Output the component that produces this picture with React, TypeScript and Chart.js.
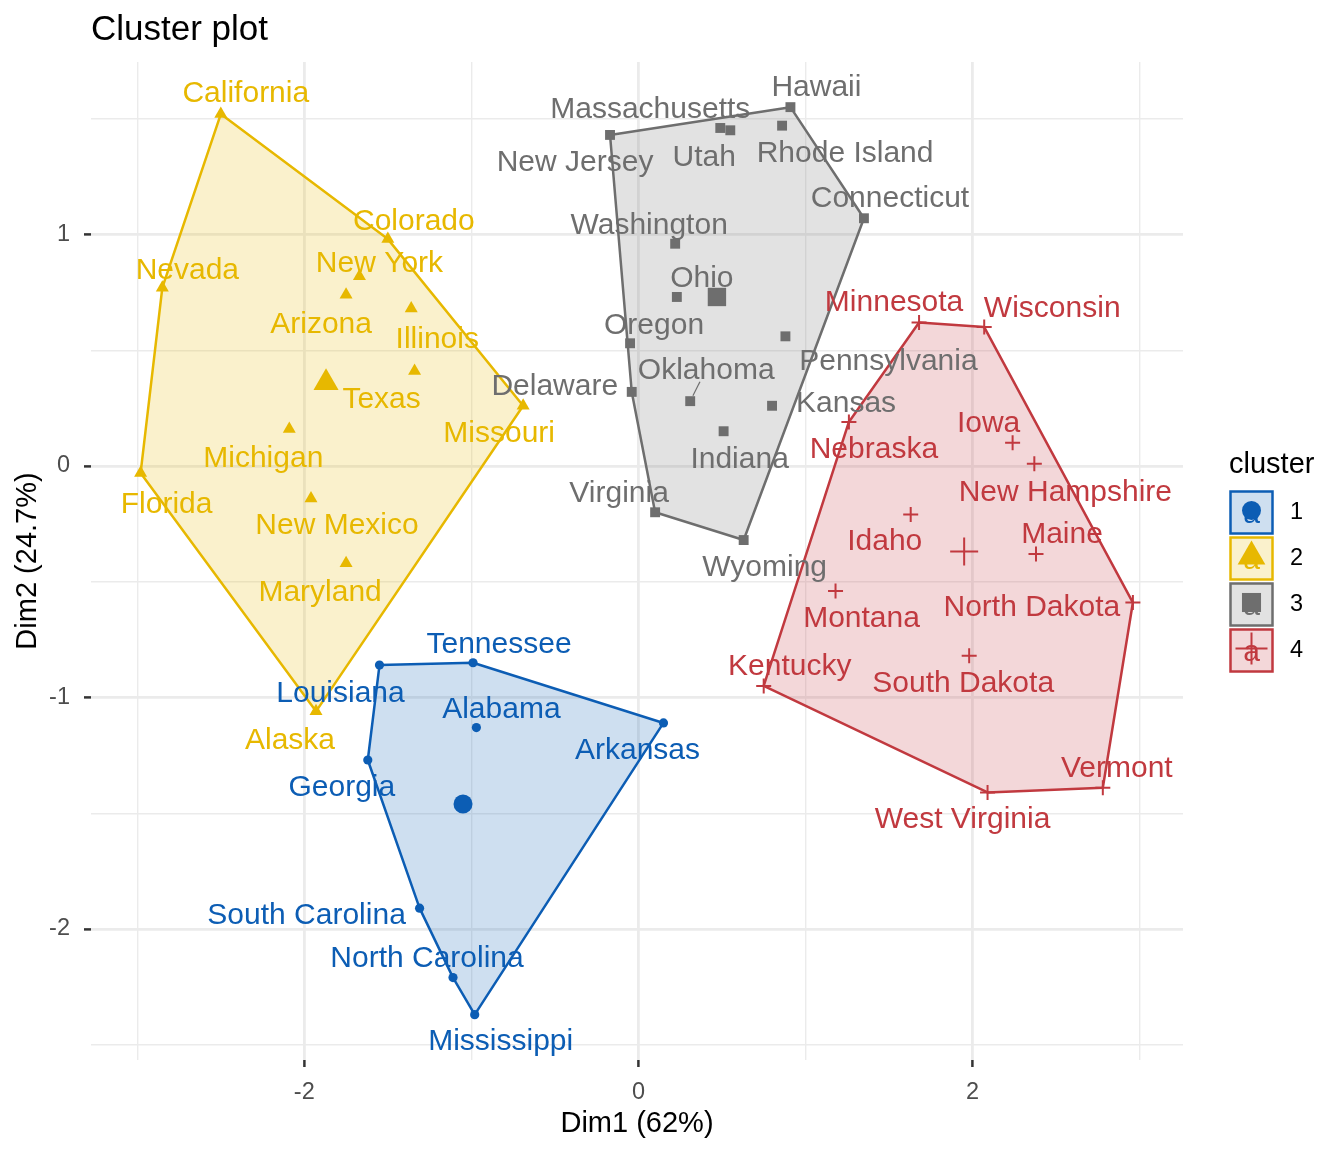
import React, { useEffect, useRef } from 'react';
import { Chart, registerables } from 'chart.js';
import { drawPoint } from 'chart.js/helpers';

Chart.register(...registerables);

const FONT = '"Liberation Sans", Arial, Helvetica, sans-serif';

// ---- data -------------------------------------------------------------
const clusterIds = ['1', '2', '3', '4'];
const clusterColors = ['#0C5DB4', '#E7B800', '#6E6E6E', '#C1393F'];
const clusterFills = [
  'rgba(12,93,180,0.2)',
  'rgba(231,184,0,0.2)',
  'rgba(110,110,110,0.2)',
  'rgba(193,57,63,0.2)',
];
const clusterShapes = ['circle', 'triangle', 'rect', 'cross'];

const cluster1States = ['Alabama', 'Arkansas', 'Georgia', 'Louisiana', 'Mississippi', 'North Carolina', 'South Carolina', 'Tennessee'];
const cluster1Dim1 = [-0.97, 0.15, -1.62, -1.55, -0.98, -1.11, -1.31, -0.99];
const cluster1Dim2 = [-1.13, -1.11, -1.27, -0.86, -2.37, -2.21, -1.91, -0.85];

const cluster2States = ['Alaska', 'Arizona', 'California', 'Colorado', 'Florida', 'Illinois', 'Maryland', 'Michigan', 'Missouri', 'Nevada', 'New Mexico', 'New York', 'Texas'];
const cluster2Dim1 = [-1.93, -1.75, -2.5, -1.5, -2.98, -1.36, -1.75, -2.09, -0.69, -2.85, -1.96, -1.67, -1.34];
const cluster2Dim2 = [-1.06, 0.74, 1.52, 0.98, -0.03, 0.68, -0.42, 0.16, 0.26, 0.77, -0.14, 0.82, 0.41];

const cluster3States = ['Connecticut', 'Delaware', 'Hawaii', 'Indiana', 'Kansas', 'Massachusetts', 'New Jersey', 'Ohio', 'Oklahoma', 'Oregon', 'Pennsylvania', 'Rhode Island', 'Utah', 'Virginia', 'Washington', 'Wyoming'];
const cluster3Dim1 = [1.35, -0.04, 0.91, 0.51, 0.8, 0.49, -0.17, 0.23, 0.31, -0.05, 0.88, 0.86, 0.55, 0.1, 0.22, 0.63];
const cluster3Dim2 = [1.07, 0.32, 1.55, 0.15, 0.26, 1.46, 1.43, 0.73, 0.28, 0.53, 0.56, 1.47, 1.45, -0.2, 0.96, -0.32];

const cluster4States = ['Idaho', 'Iowa', 'Kentucky', 'Maine', 'Minnesota', 'Montana', 'Nebraska', 'New Hampshire', 'North Dakota', 'South Dakota', 'Vermont', 'West Virginia', 'Wisconsin'];
const cluster4Dim1 = [1.63, 2.24, 0.75, 2.38, 1.68, 1.18, 1.26, 2.37, 2.96, 1.98, 2.78, 2.09, 2.07];
const cluster4Dim2 = [-0.21, 0.1, -0.95, -0.38, 0.62, -0.54, 0.19, 0.01, -0.59, -0.82, -1.39, -1.41, 0.6];

const centerDim1 = [-1.05, -1.87, 0.47, 1.95];
const centerDim2 = [-1.46, 0.36, 0.73, -0.37];

const xTickValues = [-3, -2, -1, 0, 1, 2, 3];
const xTickLabels = ['', '-2', '', '0', '', '2', ''];
const yTickValues = [-2.5, -2, -1.5, -1, -0.5, 0, 0.5, 1, 1.5];
const yTickLabels = ['', '-2', '', '-1', '', '0', '', '1', ''];

const titleText = 'Cluster plot';
const xTitle = 'Dim1 (62%)';
const yTitle = 'Dim2 (24.7%)';
const legendTitle = 'cluster';

// label placement relative to each point (pixels: centre x, baseline y)
const labelNudge: Record<string, [number, number]> = {
  California: [25, -12], Colorado: [26, -9], Nevada: [25, -9], 'New York': [20, -4],
  Arizona: [-25, 38], Illinois: [26, 39], Texas: [-33, 37], Missouri: [-24, 36],
  Michigan: [-26, 38], Florida: [26, 40], 'New Mexico': [26, 36], Maryland: [-26, 38],
  Alaska: [-26, 38],
  Tennessee: [26, -10], Louisiana: [-39, 37], Alabama: [25, -10], Arkansas: [-26, 36],
  Georgia: [-26, 36], 'South Carolina': [-113, 16], 'North Carolina': [-26, -11], Mississippi: [26, 35],
  Hawaii: [26, -11], Massachusetts: [-70, -10], 'New Jersey': [-35, 36], Utah: [-26, 36],
  'Rhode Island': [63, 36], Connecticut: [26, -11], Washington: [-26, -10], Ohio: [25, -10],
  Oregon: [24, -9], Pennsylvania: [103, 34], Oklahoma: [16, -22], Delaware: [-77, 3],
  Kansas: [74, 6], Indiana: [16, 37], Virginia: [-36, -10], Wyoming: [21, 36],
  Minnesota: [-25, -11], Wisconsin: [68, -10], Nebraska: [25, 36], Iowa: [-24, -11],
  'New Hampshire': [31, 37], Idaho: [-26, 35], Maine: [26, -11], Montana: [26, 36],
  'North Dakota': [-101, 13], 'South Dakota': [-6, 36], Kentucky: [26, -11], Vermont: [14, -11],
  'West Virginia': [-25, 36],
};
const connectedLabels = ['Oklahoma'];

const clusters = [
  { states: cluster1States, dim1: cluster1Dim1, dim2: cluster1Dim2 },
  { states: cluster2States, dim1: cluster2Dim1, dim2: cluster2Dim2 },
  { states: cluster3States, dim1: cluster3Dim1, dim2: cluster3Dim2 },
  { states: cluster4States, dim1: cluster4Dim1, dim2: cluster4Dim2 },
];

const pointRadius = [4.6, 7.5, 7, 7.5];
const centerRadius = [9.5, 14.5, 13, 14];
const legendRadius = [9.5, 16, 13.5, 16];

// ---- helpers ----------------------------------------------------------
type P = { x: number; y: number };
function convexHull(points: P[]): P[] {
  const pts = [...points].sort((a, b) => (a.x === b.x ? a.y - b.y : a.x - b.x));
  const cross = (o: P, a: P, b: P) => (a.x - o.x) * (b.y - o.y) - (a.y - o.y) * (b.x - o.x);
  const lower: P[] = [];
  for (const p of pts) {
    while (lower.length >= 2 && cross(lower[lower.length - 2], lower[lower.length - 1], p) <= 0) lower.pop();
    lower.push(p);
  }
  const upper: P[] = [];
  for (let i = pts.length - 1; i >= 0; i--) {
    const p = pts[i];
    while (upper.length >= 2 && cross(upper[upper.length - 2], upper[upper.length - 1], p) <= 0) upper.pop();
    upper.push(p);
  }
  upper.pop();
  lower.pop();
  return lower.concat(upper);
}

const decorPlugin = {
  id: 'clusterDecor',
  beforeDatasetsDraw(chart: any) {
    const { ctx, scales } = chart;
    const xs = scales.x;
    const ys = scales.y;
    clusters.forEach((c, i) => {
      const pts = c.dim1.map((v, j) => ({ x: xs.getPixelForValue(v), y: ys.getPixelForValue(c.dim2[j]) }));
      const hull = convexHull(pts);
      ctx.save();
      ctx.beginPath();
      hull.forEach((p, k) => (k ? ctx.lineTo(p.x, p.y) : ctx.moveTo(p.x, p.y)));
      ctx.closePath();
      ctx.fillStyle = clusterFills[i];
      ctx.fill();
      ctx.strokeStyle = clusterColors[i];
      ctx.lineWidth = 2.5;
      ctx.lineJoin = 'round';
      ctx.stroke();
      ctx.restore();
    });
  },
  afterDatasetsDraw(chart: any) {
    const { ctx, scales } = chart;
    const xs = scales.x;
    const ys = scales.y;
    ctx.save();
    ctx.font = `30px ${FONT}`;
    ctx.textAlign = 'center';
    ctx.textBaseline = 'alphabetic';
    clusters.forEach((c, i) => {
      c.states.forEach((name, j) => {
        const px = xs.getPixelForValue(c.dim1[j]);
        const py = ys.getPixelForValue(c.dim2[j]);
        const [dx, dy] = labelNudge[name] || [0, -12];
        if (connectedLabels.includes(name)) {
          const lx = px + dx;
          const ly = py + dy - 10;
          const len = Math.hypot(lx - px, ly - py);
          const ux = (lx - px) / len;
          const uy = (ly - py) / len;
          ctx.beginPath();
          ctx.moveTo(px + ux * 6, py + uy * 6);
          ctx.lineTo(px + ux * (len - 14), py + uy * (len - 14));
          ctx.strokeStyle = clusterColors[i];
          ctx.lineWidth = 1.2;
          ctx.stroke();
        }
        ctx.fillStyle = clusterColors[i];
        ctx.fillText(name, px + dx, py + dy);
      });
    });
    ctx.restore();
  },
  afterDraw(chart: any) {
    const { ctx, chartArea } = chart;
    ctx.save();
    // title
    ctx.fillStyle = '#000000';
    ctx.font = `35px ${FONT}`;
    ctx.textAlign = 'left';
    ctx.textBaseline = 'alphabetic';
    ctx.fillText(titleText, chartArea.left, 40);
    // axis titles
    ctx.font = `29px ${FONT}`;
    ctx.textAlign = 'center';
    ctx.textBaseline = 'middle';
    ctx.fillText(xTitle, (chartArea.left + chartArea.right) / 2, 1124);
    ctx.save();
    ctx.translate(28, (chartArea.top + chartArea.bottom) / 2);
    ctx.rotate(-Math.PI / 2);
    ctx.fillText(yTitle, 0, 0);
    ctx.restore();
    // legend
    ctx.textAlign = 'left';
    ctx.textBaseline = 'alphabetic';
    ctx.font = `29px ${FONT}`;
    ctx.fillText(legendTitle, 1229, 473);
    const keyLeft = 1229;
    const keySize = 45;
    clusterIds.forEach((id, i) => {
      const top = 490 + i * 46;
      const cx = keyLeft + keySize / 2;
      const cy = top + keySize / 2;
      ctx.fillStyle = clusterFills[i];
      ctx.fillRect(keyLeft + 1.5, top + 1.5, keySize - 3, keySize - 3);
      ctx.strokeStyle = clusterColors[i];
      ctx.lineWidth = 2.5;
      ctx.strokeRect(keyLeft + 1.5, top + 1.5, keySize - 3, keySize - 3);
      ctx.fillStyle = clusterColors[i];
      ctx.font = `30px ${FONT}`;
      ctx.textAlign = 'center';
      ctx.textBaseline = 'middle';
      ctx.fillText('a', cx, cy + 2);
      ctx.lineWidth = 2;
      drawPoint(ctx, { pointStyle: clusterShapes[i], radius: legendRadius[i], borderWidth: clusterShapes[i] === 'cross' ? 2 : 0, rotation: 0 } as any, cx, cy - 2);
      ctx.fillStyle = '#000000';
      ctx.font = `23.5px ${FONT}`;
      ctx.textAlign = 'left';
      ctx.fillText(id, 1290, cy);
    });
    ctx.restore();
  },
};

export default function App() {
  const canvasRef = useRef<HTMLCanvasElement | null>(null);

  useEffect(() => {
    if (!canvasRef.current) return;
    const pointSets = clusters.map((c, i) => ({
      label: `cluster ${clusterIds[i]}`,
      data: c.dim1.map((v, j) => ({ x: v, y: c.dim2[j] })),
      pointStyle: clusterShapes[i],
      pointRadius: pointRadius[i],
      backgroundColor: clusterColors[i],
      borderColor: clusterColors[i],
      borderWidth: clusterShapes[i] === 'cross' ? 2 : 0,
    }));
    const centerSets = clusters.map((_, i) => ({
      label: `center ${clusterIds[i]}`,
      data: [{ x: centerDim1[i], y: centerDim2[i] }],
      pointStyle: clusterShapes[i],
      pointRadius: centerRadius[i],
      backgroundColor: clusterColors[i],
      borderColor: clusterColors[i],
      borderWidth: clusterShapes[i] === 'cross' ? 2 : 0,
    }));

    const gridWidth = (values: number[], labels: string[]) => (c: any) => {
      const idx = values.indexOf(c.tick?.value);
      return idx >= 0 && labels[idx] !== '' ? 2.8 : 1.4;
    };
    const tickColor = (values: number[], labels: string[]) => (c: any) => {
      const idx = values.indexOf(c.tick?.value);
      return idx >= 0 && labels[idx] !== '' ? '#333333' : 'rgba(0,0,0,0)';
    };

    const chart = new Chart(canvasRef.current, {
      type: 'scatter',
      data: { datasets: [...pointSets, ...centerSets] as any },
      plugins: [decorPlugin],
      options: {
        responsive: false,
        animation: false,
        events: [],
        layout: { padding: { left: 0, right: 161, top: 62, bottom: 52 } },
        plugins: {
          legend: { display: false },
          tooltip: { enabled: false },
          title: { display: false },
        },
        scales: {
          x: {
            type: 'linear',
            min: -3.277,
            max: 3.26,
            afterBuildTicks: (s: any) => {
              s.ticks = xTickValues.map((v) => ({ value: v }));
            },
            afterFit: (s: any) => {
              s.height = 40;
            },
            border: { display: false },
            grid: {
              color: '#EBEBEB',
              lineWidth: gridWidth(xTickValues, xTickLabels),
              drawTicks: true,
              tickLength: 7,
              tickWidth: 2.5,
              tickColor: tickColor(xTickValues, xTickLabels),
            },
            ticks: {
              autoSkip: false,
              maxRotation: 0,
              padding: 11,
              color: '#4D4D4D',
              font: { family: FONT, size: 23.5 },
              callback: (v: any) => {
                const idx = xTickValues.indexOf(Number(v));
                return idx >= 0 ? xTickLabels[idx] : '';
              },
            },
          },
          y: {
            type: 'linear',
            min: -2.566,
            max: 1.745,
            afterBuildTicks: (s: any) => {
              s.ticks = yTickValues.map((v) => ({ value: v }));
            },
            afterFit: (s: any) => {
              s.width = 91;
            },
            border: { display: false },
            grid: {
              color: '#EBEBEB',
              lineWidth: gridWidth(yTickValues, yTickLabels),
              drawTicks: true,
              tickLength: 7,
              tickWidth: 2.5,
              tickColor: tickColor(yTickValues, yTickLabels),
            },
            ticks: {
              autoSkip: false,
              padding: 14,
              color: '#4D4D4D',
              font: { family: FONT, size: 23.5 },
              callback: (v: any) => {
                const idx = yTickValues.indexOf(Number(v));
                return idx >= 0 ? yTickLabels[idx] : '';
              },
            },
          },
        },
      } as any,
    });
    return () => chart.destroy();
  }, []);

  return (
    <div style={{ position: 'absolute', left: 0, top: 0, width: 1344, height: 1152, background: '#ffffff' }}>
      <canvas ref={canvasRef} width={1344} height={1152} style={{ display: 'block', width: 1344, height: 1152 }} />
    </div>
  );
}
